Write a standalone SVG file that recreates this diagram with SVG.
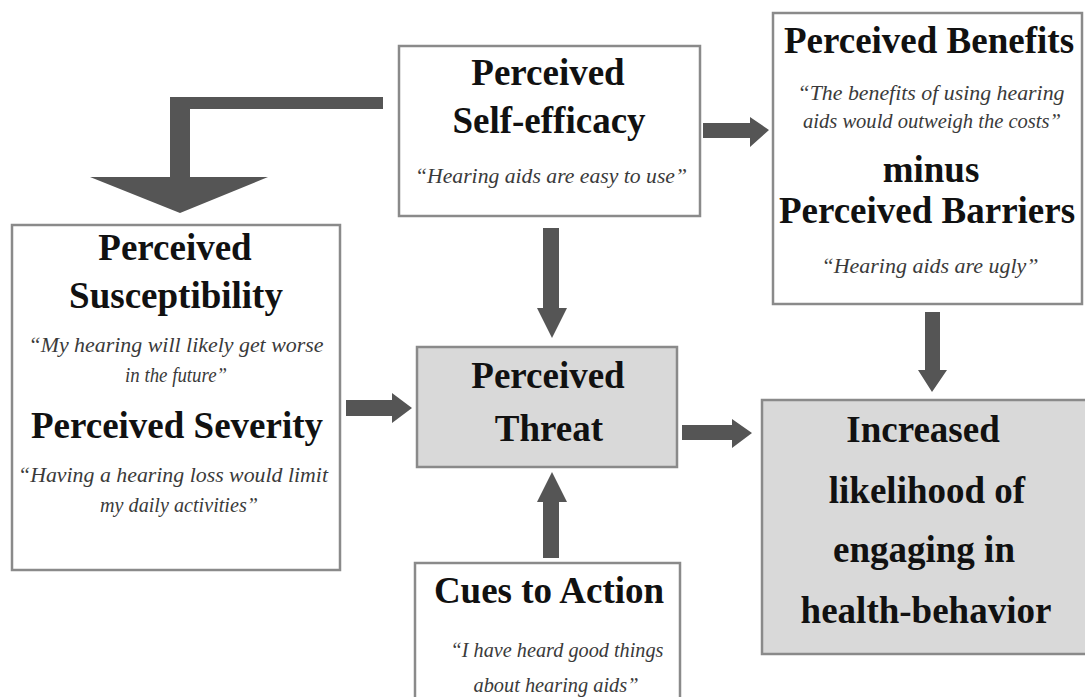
<svg xmlns="http://www.w3.org/2000/svg" width="1085" height="697" viewBox="0 0 1085 697">
<style>
.box{fill:#ffffff;stroke:#8a8a8a;stroke-width:2.5}
.gbox{fill:#d9d9d9;stroke:#8a8a8a;stroke-width:2.5}
.h{font-family:"Liberation Serif","Times New Roman",serif;font-weight:bold;font-size:37px;fill:#111;text-anchor:middle}
.q{font-family:"Liberation Serif","Times New Roman",serif;font-style:italic;font-size:21px;fill:#3a3a3a;text-anchor:middle}
.arr{fill:#555555}
</style>
<rect width="1085" height="697" fill="#ffffff"/>
<g id="connectors">
<path class="arr" d="M383,97 L170,97 L170,177 L90,177 L180,213 L268,177 L190,177 L190,109 L383,109 Z"/>
<path class="arr" d="M703,123 L750,123 L750,117 L769,130 L750,147 L750,138 L703,138 Z"/>
<path class="arr" d="M543,228 L559,228 L559,308 L567,308 L552,338 L537,308 L543,308 Z"/>
<path class="arr" d="M346,400 L392,400 L392,393 L412,408 L392,423 L392,416 L346,416 Z"/>
<path class="arr" d="M682,425 L732,425 L732,419 L752,433 L732,448 L732,440 L682,440 Z"/>
<path class="arr" d="M925,312 L940,312 L940,370 L947,370 L932,392 L918,370 L925,370 Z"/>
<path class="arr" d="M543,558 L559,558 L559,502 L567,502 L552,472 L537,502 L543,502 Z"/>
</g>
<g id="self-efficacy">
<rect class="box" x="399" y="46" width="301" height="170"/>
<text class="h" x="548" y="85">Perceived</text>
<text class="h" x="549" y="133">Self-efficacy</text>
<text class="q" x="551" y="183" textLength="272" lengthAdjust="spacingAndGlyphs">“Hearing aids are easy to use”</text>
</g>
<g id="benefits-barriers">
<rect class="box" x="773" y="13" width="309" height="291"/>
<text class="h" x="929" y="53">Perceived Benefits</text>
<text class="q" x="931" y="100" textLength="267" lengthAdjust="spacingAndGlyphs">“The benefits of using hearing</text>
<text class="q" x="932" y="128" textLength="258" lengthAdjust="spacingAndGlyphs">aids would outweigh the costs”</text>
<text class="h" x="931" y="182">minus</text>
<text class="h" x="927" y="223">Perceived Barriers</text>
<text class="q" x="930" y="273" textLength="217" lengthAdjust="spacingAndGlyphs">“Hearing aids are ugly”</text>
</g>
<g id="susceptibility-severity">
<rect class="box" x="12" y="225" width="328" height="345"/>
<text class="h" x="175" y="260">Perceived</text>
<text class="h" x="176" y="308">Susceptibility</text>
<text class="q" x="176" y="352" textLength="295" lengthAdjust="spacingAndGlyphs">“My hearing will likely get worse</text>
<text class="q" x="176" y="382" textLength="102" lengthAdjust="spacingAndGlyphs">in the future”</text>
<text class="h" x="177" y="438">Perceived Severity</text>
<text class="q" x="173" y="482" textLength="310" lengthAdjust="spacingAndGlyphs">“Having a hearing loss would limit</text>
<text class="q" x="179" y="512" textLength="158" lengthAdjust="spacingAndGlyphs">my daily activities”</text>
</g>
<g id="threat">
<rect class="gbox" x="417" y="347" width="260" height="120"/>
<text class="h" x="548" y="388">Perceived</text>
<text class="h" x="549" y="441">Threat</text>
</g>
<g id="cues">
<rect class="box" x="415" y="563" width="265" height="145"/>
<text class="h" x="549" y="603">Cues to Action</text>
<text class="q" x="557" y="657" textLength="213" lengthAdjust="spacingAndGlyphs">“I have heard good things</text>
<text class="q" x="556" y="692" textLength="165" lengthAdjust="spacingAndGlyphs">about hearing aids”</text>
</g>
<g id="outcome">
<rect class="gbox" x="762" y="400" width="335" height="254"/>
<text class="h" x="923" y="442">Increased</text>
<text class="h" x="927" y="503">likelihood of</text>
<text class="h" x="924" y="562">engaging in</text>
<text class="h" x="926" y="623">health-behavior</text>
</g>
</svg>
